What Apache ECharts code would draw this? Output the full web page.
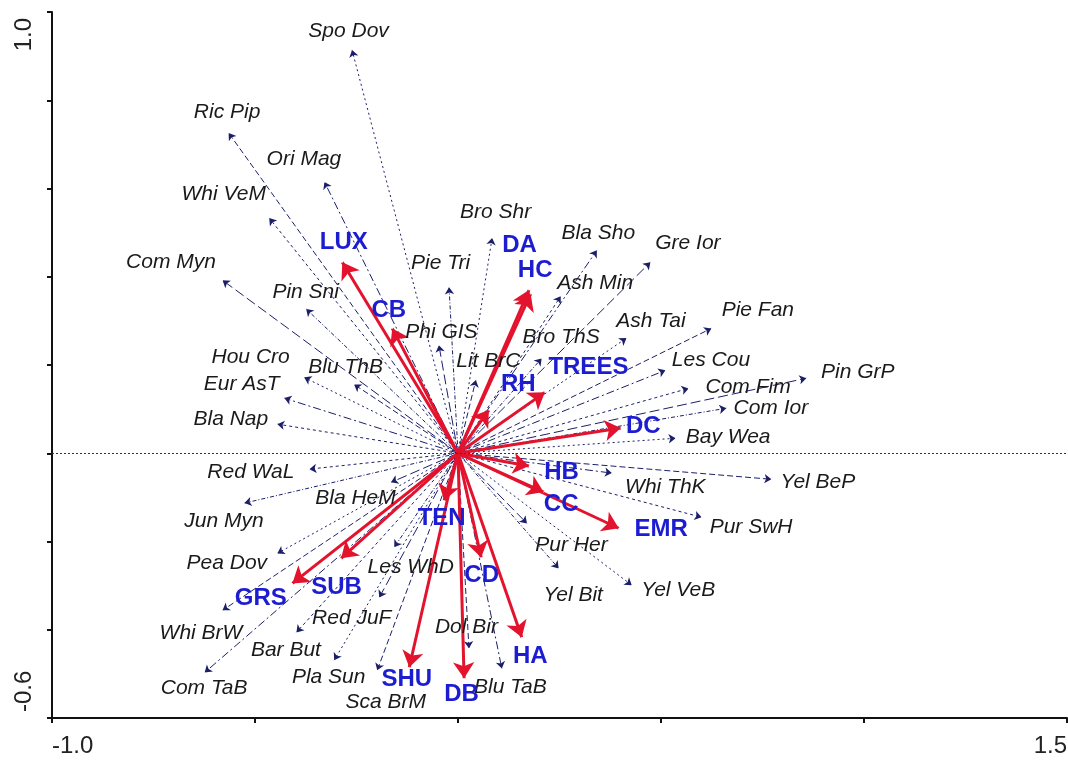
<!DOCTYPE html>
<html>
<head>
<meta charset="utf-8">
<script src="https://cdn.jsdelivr.net/npm/echarts@6/dist/echarts.min.js"></script>
<style>
html,body{margin:0;padding:0;background:#fff;}
#chart{width:1068px;height:764px;}
</style>
</head>
<body>
<div id="chart"></div>
<script>
// species scores (arrow tips)
const speciesNames = ['Spo Dov','Ric Pip','Ori Mag','Whi VeM','Com Myn','Pin Sni','Hou Cro','Blu ThB','Eur AsT','Bla Nap',
  'Phi GIS','Pie Tri','Bro Shr','Lit BrC','Bla Sho','Ash Min','Gre Ior','Bro ThS','Ash Tai','Pie Fan',
  'Les Cou','Com Fim','Pin GrP','Com Ior','Bay Wea','Yel BeP','Whi ThK','Pur SwH','Pur Her','Yel Bit',
  'Yel VeB','Dol Bir','Blu TaB','Red WaL','Bla HeM','Jun Myn','Pea Dov','Whi BrW','Com TaB','Bar But',
  'Red JuF','Les WhD','Pla Sun','Sca BrM'];
const speciesX = [-0.261,-0.565,-0.329,-0.465,-0.580,-0.374,-0.379,-0.256,-0.428,-0.445,
  -0.047,-0.022,0.084,0.044,0.342,0.253,0.474,0.206,0.415,0.624,
  0.511,0.568,0.858,0.661,0.536,0.772,0.379,0.600,0.170,0.248,
  0.428,0.027,0.108,-0.366,-0.165,-0.526,-0.445,-0.580,-0.624,-0.398,
  -0.194,-0.157,-0.305,-0.199];
const speciesY = [0.914,0.726,0.615,0.533,0.392,0.327,0.172,0.156,0.125,0.066,
  0.245,0.376,0.488,0.166,0.460,0.356,0.433,0.215,0.261,0.283,
  0.188,0.147,0.170,0.102,0.034,-0.059,-0.045,-0.145,-0.159,-0.261,
  -0.299,-0.442,-0.488,-0.036,-0.066,-0.113,-0.227,-0.356,-0.497,-0.406,
  -0.327,-0.213,-0.469,-0.492];

// environmental variables
const envNames = ['LUX','CB','DA','HC','RH','TREES','DC','HB','CC','EMR','TEN','CD','HA','DB','SHU','SUB','GRS'];
const envX = [-0.285,-0.162,0.175,0.179,0.076,0.214,0.401,0.175,0.211,0.396,-0.034,0.057,0.157,0.015,-0.120,-0.288,-0.408];
const envY = [0.433,0.283,0.370,0.361,0.098,0.138,0.057,-0.029,-0.088,-0.170,-0.107,-0.236,-0.417,-0.510,-0.485,-0.238,-0.295];

// axes
const xRange = [-1.0, 1.5];
const yRange = [-0.6, 1.0];
const xTickLabels = ['-1.0', '1.5'];
const yTickLabels = ['-0.6', '1.0'];

// label placement (pixel offset of label centre from arrow tip)
const spLabelOffset = {
  'Spo Dov':[-3,-18],'Ric Pip':[-1,-20],'Ori Mag':[-20,-22],'Whi VeM':[-45,-23],'Com Myn':[-51,-18],
  'Pin Sni':[0,-16],'Hou Cro':[-53,-20],'Blu ThB':[-8,-17],'Eur AsT':[-42,-13],'Bla Nap':[-46,-4],
  'Phi GIS':[3,-12],'Pie Tri':[-8,-24],'Bro Shr':[4,-25],'Lit BrC':[13,-18],'Bla Sho':[2,-17],
  'Ash Min':[35,-13],'Gre Ior':[38,-19],'Bro ThS':[20,-21],'Ash Tai':[25,-16],'Pie Fan':[47,-18],
  'Les Cou':[46,-10],'Com Fim':[60,-1],'Pin GrP':[52,-6],'Com Ior':[45,0],'Bay Wea':[53,-1],
  'Yel BeP':[47,3],'Whi ThK':[54,15],'Pur SwH':[50,10],'Pur Her':[45,22],'Yel Bit':[15,27],
  'Yel VeB':[47,5],'Dol Bir':[-2,-21],'Blu TaB':[9,19],'Red WaL':[-58,4],'Bla HeM':[-35,16],
  'Jun Myn':[-20,19],'Pea Dov':[-50,10],'Whi BrW':[-21,23],'Com TaB':[0,16],'Bar But':[-10,18],
  'Red JuF':[-27,21],'Les WhD':[17,20],'Pla Sun':[-5,17],'Sca BrM':[9,32]
};
const envLabelOffset = {
  'LUX':[2,-19],'CB':[-3,-18],'DA':[-9,-44],'HC':[5,-23],'RH':[30,-25],'TREES':[44,-24],'DC':[23,-1],
  'HB':[33,7],'CC':[18,13],'EMR':[43,2],'TEN':[-2,18],'CD':[1,18],'HA':[9,20],'DB':[-2,17],
  'SHU':[-2,13],'SUB':[-4,30],'GRS':[-31,15]
};
const dashTypes = [[2,3],[6,3],[8,3,2,3],[3,3],[10,4],[4,2,1,2]];

const FONT = 'Liberation Sans, Arial, sans-serif';

const chart = echarts.init(document.getElementById('chart'));

const spLines = speciesNames.map((n,i)=>({
  name:n, coords:[[0,0],[speciesX[i],speciesY[i]]],
  lineStyle:{type:dashTypes[i%dashTypes.length]}
}));
const envLines = envNames.map((n,i)=>({name:n, coords:[[0,0],[envX[i],envY[i]]]}));

function fmtX(v){
  if (Math.abs(v-xRange[0])<1e-6) return xTickLabels[0];
  if (Math.abs(v-xRange[1])<1e-6) return xTickLabels[1];
  return '';
}
function fmtY(v){
  if (Math.abs(v-yRange[0])<1e-6) return yTickLabels[0];
  if (Math.abs(v-yRange[1])<1e-6) return yTickLabels[1];
  return '';
}

// shift each label from its tip by the pixel offset above
function shiftBy(names, offsets){
  return function(p){
    const o = offsets[names[p.dataIndex]] || [0,0];
    return {dx:o[0], dy:o[1], hideOverlap:false};
  };
}

let option = {
  animation:false,
  backgroundColor:'#fff',
  grid:{left:52, right:1, top:12, bottom:46, containLabel:false, outerBoundsMode:'none'},
  xAxis:{
    type:'value', min:xRange[0], max:xRange[1], interval:0.5,
    axisLine:{show:true, onZero:false, lineStyle:{color:'#111', width:2}},
    axisTick:{show:true, length:5, lineStyle:{color:'#111', width:2}},
    splitLine:{show:false},
    axisLabel:{formatter:fmtX, fontSize:24, color:'#222', fontFamily:FONT, margin:16,
      showMinLabel:true, showMaxLabel:true, alignMinLabel:'left', alignMaxLabel:'right'}
  },
  yAxis:{
    type:'value', min:yRange[0], max:yRange[1], interval:0.2,
    axisLine:{show:true, onZero:false, lineStyle:{color:'#111', width:2}},
    axisTick:{show:true, length:5, lineStyle:{color:'#111', width:2}},
    splitLine:{show:false},
    axisLabel:{formatter:fmtY, rotate:90, fontSize:24, color:'#222', fontFamily:FONT, margin:16,
      showMinLabel:true, showMaxLabel:true, alignMinLabel:'left', alignMaxLabel:'right',
      padding:[0,6,0,6]}
  },
  series:[
    {
      type:'lines', coordinateSystem:'cartesian2d', silent:true, z:2,
      data:spLines, symbol:['none','arrow'], symbolSize:7,
      lineStyle:{color:'#1b1f68', width:1, opacity:1, curveness:0}
    },
    {
      type:'lines', coordinateSystem:'cartesian2d', silent:true, z:3,
      data:envLines, symbol:['none','arrow'], symbolSize:16,
      lineStyle:{color:'#e3122d', width:3, opacity:1, curveness:0}
    },
    {
      type:'scatter', silent:true, z:5, symbolSize:1, itemStyle:{color:'#fff', opacity:1},
      data:speciesNames.map((n,i)=>({name:n, value:[speciesX[i],speciesY[i]]})),
      label:{show:true, position:[0,0], formatter:'{b}', fontStyle:'italic', fontSize:21,
        fontFamily:FONT, color:'#1a1a1a', align:'center', verticalAlign:'middle', opacity:1,
        textBorderWidth:0},
      labelLayout:shiftBy(speciesNames, spLabelOffset),
      markLine:{silent:true, symbol:'none', label:{show:false},
        lineStyle:{type:[2,2], color:'#333', width:1}, data:[{yAxis:0}]}
    },
    {
      type:'scatter', silent:true, z:6, symbolSize:1, itemStyle:{color:'#fff', opacity:1},
      data:envNames.map((n,i)=>({name:n, value:[envX[i],envY[i]]})),
      label:{show:true, position:[0,0], formatter:'{b}', fontWeight:'bold', fontSize:24,
        fontFamily:FONT, color:'#1c1cd0', align:'center', verticalAlign:'middle', opacity:1,
        textBorderWidth:0},
      labelLayout:shiftBy(envNames, envLabelOffset)
    }
  ]
};
chart.setOption(option);
</script>
</body>
</html>
